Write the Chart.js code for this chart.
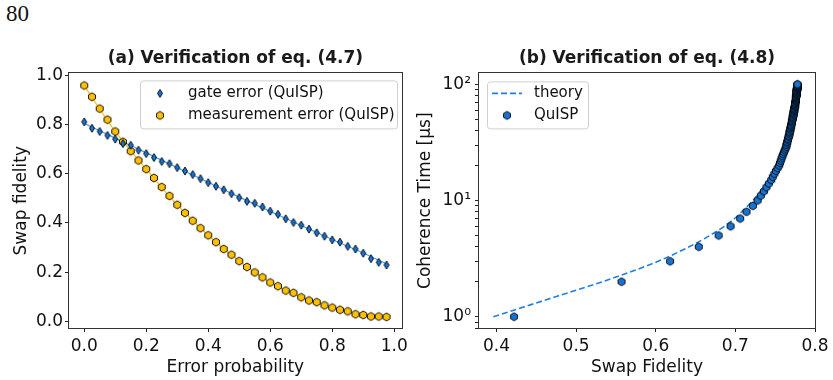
<!DOCTYPE html>
<html>
<head>
<meta charset="utf-8">
<script src="https://cdn.jsdelivr.net/npm/chart.js@4/dist/chart.umd.min.js"></script>
<style>
  body { margin: 0; background: #fff; }
  #page { position: absolute; left: 6px; top: 1px; font: 23px "Liberation Serif", serif; color: #111; }
  #left { position: absolute; left: 0; top: 0; }
  #right { position: absolute; left: 412px; top: 0; }
</style>
</head>
<body>
<div id="page">80</div>
<canvas id="left" width="412" height="380"></canvas>
<canvas id="right" width="421" height="380"></canvas>
<script>
// (a) swap fidelity vs error probability
const errorProb = [0, 0.025, 0.05, 0.075, 0.1, 0.125, 0.15, 0.175, 0.2, 0.225,
  0.25, 0.275, 0.3, 0.325, 0.35, 0.375, 0.4, 0.425, 0.45, 0.475,
  0.5, 0.525, 0.55, 0.575, 0.6, 0.625, 0.65, 0.675, 0.7, 0.725,
  0.75, 0.775, 0.8, 0.825, 0.85, 0.875, 0.9, 0.925, 0.95, 0.975];
const gateFid = [0.811, 0.785, 0.772, 0.756, 0.741, 0.723, 0.716, 0.696, 0.682, 0.666,
  0.650, 0.641, 0.625, 0.611, 0.597, 0.580, 0.564, 0.549, 0.535, 0.519,
  0.503, 0.488, 0.480, 0.465, 0.448, 0.435, 0.417, 0.402, 0.391, 0.375,
  0.360, 0.346, 0.331, 0.322, 0.305, 0.294, 0.277, 0.255, 0.240, 0.229];
const measFid = [0.959, 0.913, 0.865, 0.820, 0.772, 0.730, 0.692, 0.654, 0.619, 0.583,
  0.546, 0.510, 0.474, 0.441, 0.409, 0.379, 0.350, 0.322, 0.294, 0.271,
  0.245, 0.221, 0.199, 0.179, 0.158, 0.143, 0.125, 0.116, 0.098, 0.085,
  0.078, 0.065, 0.056, 0.047, 0.041, 0.029, 0.026, 0.020, 0.020, 0.018];
// thin theory curves under the markers
const theoryProb = [0, 0.1, 0.2, 0.3, 0.4, 0.5, 0.6, 0.7, 0.8, 0.9, 0.975];
const gateTheory = [0.805, 0.745, 0.685, 0.625, 0.565, 0.505, 0.447, 0.390, 0.333, 0.278, 0.233];
const measTheory = [0.958, 0.772, 0.619, 0.474, 0.350, 0.245, 0.158, 0.098, 0.056, 0.026, 0.019];
const ticksA = [0, 0.2, 0.4, 0.6, 0.8, 1.0];

// (b) coherence time vs swap fidelity
const coherenceTime = [1, 2, 3, 4, 5, 6, 7, 8, 9, 10,
  11, 12, 13, 14, 15, 16, 17, 18, 19, 20,
  21, 22, 23, 24, 25, 26, 27, 28, 29, 30,
  31, 32, 33, 34, 35, 36, 37, 38, 39, 40,
  41, 42, 43, 44, 45, 46, 47, 48, 49, 50,
  51, 52, 53, 54, 55, 56, 57, 58, 59, 60,
  61, 62, 63, 64, 65, 66, 67, 68, 69, 70,
  71, 72, 73, 74, 75, 76, 77, 78, 79, 80,
  81, 82, 83, 84, 85, 86, 87, 88, 89, 90,
  91, 92, 93, 94, 95, 96, 97, 98, 99, 100];
const quispFid = [0.422, 0.557, 0.618, 0.654, 0.679, 0.694, 0.706, 0.714, 0.722, 0.728,
  0.732, 0.736, 0.739, 0.742, 0.745, 0.747, 0.749, 0.751, 0.753, 0.755,
  0.756, 0.757, 0.758, 0.759, 0.760, 0.761, 0.762, 0.763, 0.764, 0.764,
  0.765, 0.765, 0.766, 0.766, 0.767, 0.767, 0.768, 0.768, 0.768, 0.769,
  0.769, 0.769, 0.770, 0.770, 0.770, 0.771, 0.771, 0.771, 0.771, 0.772,
  0.772, 0.772, 0.772, 0.773, 0.773, 0.773, 0.773, 0.773, 0.774, 0.774,
  0.774, 0.774, 0.774, 0.775, 0.775, 0.775, 0.775, 0.775, 0.775, 0.775,
  0.776, 0.776, 0.776, 0.776, 0.776, 0.776, 0.776, 0.776, 0.776, 0.777,
  0.777, 0.777, 0.777, 0.777, 0.777, 0.777, 0.777, 0.777, 0.777, 0.777,
  0.778, 0.778, 0.778, 0.778, 0.778, 0.778, 0.778, 0.778, 0.778, 0.778];
const theoryTime = [1, 1.5, 2, 2.5, 3, 4, 5, 6, 7, 8, 10, 13, 16, 20, 25, 30, 40, 50, 60, 70, 85, 100];
const theoryFid = [0.396, 0.476, 0.533, 0.573, 0.603, 0.642, 0.668, 0.686, 0.699, 0.708, 0.722,
  0.735, 0.744, 0.751, 0.757, 0.761, 0.766, 0.769, 0.771, 0.773, 0.775, 0.776];
const ticksB = [0.4, 0.5, 0.6, 0.7, 0.8];
const logTicks = [0.8, 0.9, 1, 2, 3, 4, 5, 6, 7, 8, 9, 10, 20, 30, 40, 50, 60, 70, 80, 90, 100];

const BLUE = '#1874d2';
const GOLD = '#ffc000';
Chart.defaults.font.family = '"DejaVu Sans", sans-serif';
Chart.defaults.color = '#111';
Chart.defaults.animation = false;

function marker(kind, fill) {
  const c = document.createElement('canvas');
  c.width = 12; c.height = 12;
  const g = c.getContext('2d');
  g.beginPath();
  if (kind === 'hex') {
    for (let i = 0; i < 6; i++) {
      const a = Math.PI / 2 + i * Math.PI / 3;
      g.lineTo(6 + 4 * Math.cos(a), 6 - 4 * Math.sin(a));
    }
  } else {
    g.moveTo(6, 2); g.lineTo(8.5, 6); g.lineTo(6, 10); g.lineTo(3.5, 6);
  }
  g.closePath();
  g.fillStyle = fill; g.fill();
  g.strokeStyle = '#000'; g.lineWidth = 0.9; g.stroke();
  return c;
}

const pts = (xs, ys) => xs.map((x, i) => ({x: x, y: ys[i]}));

// box around the plot area + legend drawn inside it
const frame = {
  id: 'frame',
  afterDraw(chart, args, o) {
    const {ctx, chartArea: a} = chart;
    ctx.save();
    ctx.strokeStyle = '#333';
    ctx.lineWidth = 1;
    ctx.strokeRect(Math.round(a.left) - 0.5, Math.round(a.top) - 0.5, Math.round(a.width) + 1, Math.round(a.height) + 1);
    // legend
    const x = a.left + o.x, y = a.top + o.y;
    ctx.beginPath();
    ctx.roundRect(x + 0.5, y + 0.5, o.w, o.h, 3);
    ctx.fillStyle = 'rgba(255,255,255,0.8)';
    ctx.fill();
    ctx.strokeStyle = '#d0d0d0';
    ctx.stroke();
    ctx.font = '15px "DejaVu Sans"';
    ctx.textBaseline = 'middle';
    ctx.fillStyle = '#111';
    o.items.forEach((idx, i) => {
      const ds = chart.data.datasets[idx];
      const cy = y + o.row0 + i * 22;
      if (ds.showLine) {
        ctx.save();
        ctx.strokeStyle = ds.borderColor;
        ctx.lineWidth = ds.borderWidth;
        ctx.setLineDash(ds.borderDash || []);
        ctx.beginPath();
        ctx.moveTo(x + 5, cy); ctx.lineTo(x + 35, cy);
        ctx.stroke();
        ctx.restore();
      } else {
        ctx.drawImage(ds.pointStyle, x + o.mx - 6, cy - 6);
      }
      ctx.fillText(ds.label, x + o.tx, cy);
    });
    ctx.restore();
  }
};

function axisX(min, max, ticks, title) {
  return {
    type: 'linear', min: min, max: max,
    afterBuildTicks: s => { s.ticks = ticks.map(v => ({value: v})); },
    afterFit: s => { s.height = 52; },
    ticks: {callback: v => v.toFixed(1), font: {size: 17}, padding: 4, maxRotation: 0, autoSkip: false},
    grid: {drawOnChartArea: false, tickLength: 4, tickColor: '#222'},
    border: {display: false},
    title: {display: true, text: title, font: {size: 17}, padding: {top: 0, bottom: 2}}
  };
}

new Chart(document.getElementById('left'), {
  type: 'scatter',
  data: {
    datasets: [
      {label: 'gate error (QuISP)', data: pts(errorProb, gateFid), pointStyle: marker('dia', BLUE), pointRadius: 4, order: 1},
      {label: 'measurement error (QuISP)', data: pts(errorProb, measFid), pointStyle: marker('hex', GOLD), pointRadius: 4, order: 2},
      {label: 'gate theory', data: pts(theoryProb, gateTheory), showLine: true, pointRadius: 0, borderColor: '#4aa0ee', borderWidth: 1.2, cubicInterpolationMode: 'monotone', order: 3},
      {label: 'measurement theory', data: pts(theoryProb, measTheory), showLine: true, pointRadius: 0, borderColor: GOLD, borderWidth: 1.2, cubicInterpolationMode: 'monotone', order: 4}
    ]
  },
  options: {
    responsive: false,
    layout: {padding: {left: 0, right: 7, top: 0, bottom: 0}},
    plugins: {
      legend: {display: false},
      tooltip: {enabled: false},
      title: {display: true, text: '(a) Verification of eq. (4.7)', fullSize: false,
        font: {size: 17, weight: 'bold'}, color: '#1a1a1a', padding: {top: 48, bottom: 5}},
      frame: {x: 71, y: 7, w: 257, h: 48, row0: 13, mx: 20, tx: 48, items: [0, 1]}
    },
    scales: {
      x: axisX(-0.049, 1.024, ticksA, 'Error probability'),
      y: {
        type: 'linear', min: -0.027, max: 1.008,
        afterBuildTicks: s => { s.ticks = ticksA.map(v => ({value: v})); },
        afterFit: s => { s.width = 69; },
        ticks: {callback: v => v.toFixed(1), font: {size: 17}, padding: 2},
        grid: {drawOnChartArea: false, tickLength: 4, tickColor: '#222'},
        border: {display: false},
        title: {display: true, text: 'Swap fidelity', font: {size: 17}, padding: {top: 11, bottom: 0}}
      }
    }
  },
  plugins: [frame]
});

new Chart(document.getElementById('right'), {
  type: 'scatter',
  data: {
    datasets: [
      {label: 'theory', data: pts(theoryFid, theoryTime), showLine: true, pointRadius: 0, borderColor: '#1f80e0', borderWidth: 1.6, borderDash: [6, 3], cubicInterpolationMode: 'monotone', order: 2},
      {label: 'QuISP', data: pts(quispFid, coherenceTime), pointStyle: marker('hex', BLUE), pointRadius: 4, order: 1}
    ]
  },
  options: {
    responsive: false,
    layout: {padding: {left: 0, right: 18, top: 0, bottom: 0}},
    plugins: {
      legend: {display: false},
      tooltip: {enabled: false},
      title: {display: true, text: '(b) Verification of eq. (4.8)', fullSize: false,
        font: {size: 17, weight: 'bold'}, color: '#1a1a1a', padding: {top: 48, bottom: 5}},
      frame: {x: 8, y: 8, w: 101, h: 47, row0: 12, mx: 20, tx: 47, items: [0, 1]}
    },
    scales: {
      x: axisX(0.378, 0.8, ticksB, 'Swap Fidelity'),
      y: {
        type: 'logarithmic', min: 0.8, max: 124,
        afterBuildTicks: s => { s.ticks = logTicks.map(v => ({value: v})); },
        afterFit: s => { s.width = 67; },
        ticks: {
          callback: v => v === 1 ? '10\u2070' : v === 10 ? '10\u00b9' : v === 100 ? '10\u00b2' : '',
          font: {size: 17}, padding: 4, autoSkip: false
        },
        grid: {drawOnChartArea: false, tickLength: 4, tickColor: '#222'},
        border: {display: false},
        title: {display: true, text: 'Coherence Time [\u03bcs]', font: {size: 17}, padding: {top: 3, bottom: 0}}
      }
    }
  },
  plugins: [frame]
});
</script>
</body>
</html>
